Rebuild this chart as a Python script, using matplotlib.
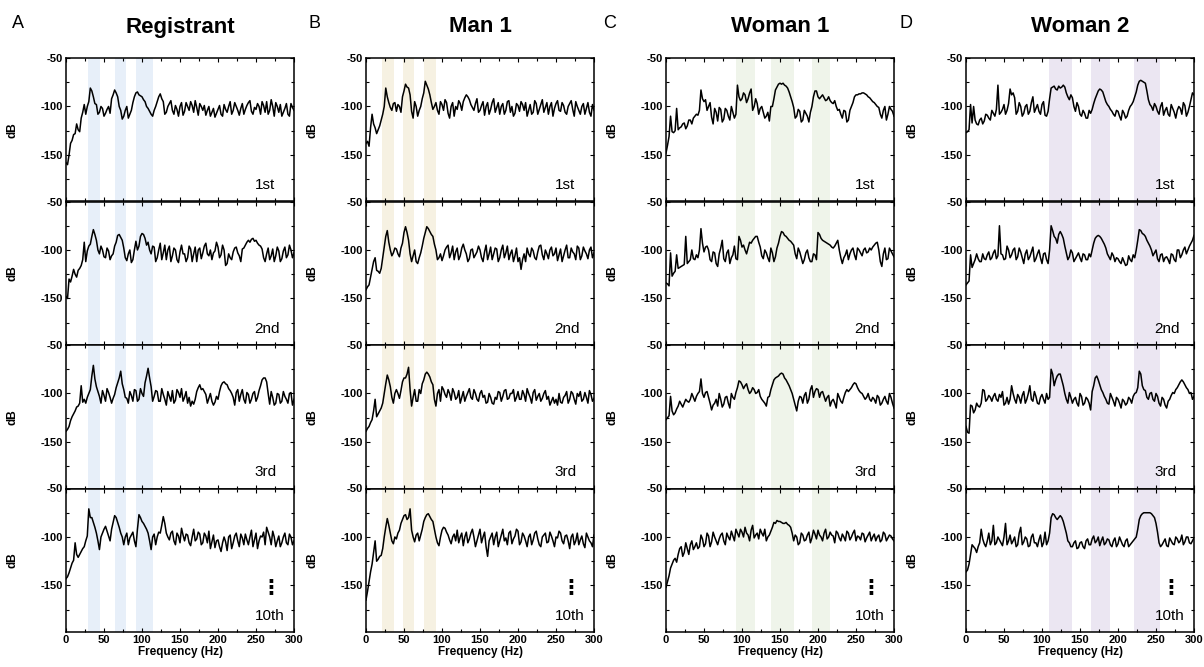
import numpy as np
import matplotlib.pyplot as plt
from matplotlib.ticker import MultipleLocator

plt.rcParams['font.family'] = ['Liberation Sans', 'DejaVu Sans']
plt.rcParams['font.weight'] = 'bold'
plt.rcParams['axes.unicode_minus'] = False

# spectra in dB: main lists sampled at 0, 4, ... 300 Hz, *_mid at 2, 6, ... 298 Hz
reg_1st = [-158, -150, -135, -128, -124, -112, -98, -100, -81, -90,
           -98, -106, -102, -107, -100, -92, -83, -90, -104, -110,
           -100, -108, -96, -86, -88, -90, -95, -102, -108, -104,
           -95, -87, -95, -106, -97, -104, -99, -110, -96, -105,
           -100, -95, -106, -101, -97, -104, -109, -100, -106, -111,
           -103, -108, -98, -106, -95, -104, -100, -109, -97, -103,
           -96, -105, -101, -97, -108, -99, -95, -104, -100, -96,
           -106, -110, -102, -108, -97, -104]
reg_1st_mid = [-160, -138, -129, -118, -126, -106, -108, -95, -84, -97,
               -108, -100, -110, -103, -107, -88, -86, -100, -113, -104,
               -112, -104, -90, -85, -89, -93, -100, -105, -110, -100,
               -90, -92, -108, -100, -94, -108, -103, -100, -109, -96,
               -104, -99, -94, -109, -100, -99, -104, -110, -102, -107,
               -99, -110, -103, -100, -108, -96, -104, -102, -108, -99,
               -94, -108, -103, -100, -95, -106, -108, -93, -110, -100,
               -98, -106, -97, -110, -101]
reg_2nd = [-148, -130, -127, -125, -121, -116, -92, -101, -94, -79,
           -90, -104, -100, -108, -101, -106, -96, -85, -87, -98,
           -111, -100, -110, -91, -96, -83, -88, -92, -104, -97,
           -108, -93, -103, -110, -96, -106, -100, -113, -95, -104,
           -108, -99, -104, -112, -98, -103, -93, -106, -110, -101,
           -97, -105, -100, -114, -108, -102, -97, -106, -99, -95,
           -90, -89, -91, -93, -96, -108, -104, -110, -99, -106,
           -101, -109, -97, -105, -100, -103]
reg_2nd_mid = [-150, -133, -120, -128, -119, -110, -112, -96, -86, -84,
               -100, -96, -107, -98, -110, -104, -92, -84, -90, -108,
               -104, -113, -100, -100, -86, -84, -95, -100, -96, -112,
               -100, -110, -95, -100, -112, -98, -110, -102, -104, -112,
               -96, -112, -97, -100, -109, -96, -104, -100, -103, -92,
               -108, -95, -116, -104, -110, -98, -103, -112, -98, -92,
               -92, -88, -90, -95, -99, -112, -98, -106, -112, -97,
               -112, -101, -108, -95, -108]
reg_3rd = [-139, -134, -124, -118, -113, -92, -106, -104, -96, -71,
           -93, -103, -97, -108, -99, -110, -101, -89, -77, -96,
           -105, -98, -108, -97, -106, -100, -89, -74, -93, -103,
           -98, -108, -101, -112, -103, -97, -107, -99, -95, -104,
           -110, -113, -111, -98, -91, -95, -101, -105, -108, -109,
           -106, -92, -88, -91, -97, -104, -99, -108, -96, -110,
           -101, -106, -98, -104, -92, -84, -88, -111, -104, -110,
           -101, -108, -103, -110, -99, -106]
reg_3rd_mid = [-137, -128, -121, -114, -110, -109, -110, -100, -82, -85,
               -98, -110, -102, -95, -104, -105, -94, -84, -90, -104,
               -110, -102, -96, -108, -95, -103, -82, -84, -108, -97,
               -108, -95, -106, -98, -108, -110, -96, -104, -108, -98,
               -104, -108, -106, -94, -96, -98, -110, -100, -112, -103,
               -98, -89, -90, -95, -100, -112, -96, -101, -106, -99,
               -110, -100, -108, -97, -86, -84, -100, -98, -112, -100,
               -110, -98, -106, -100, -112]
reg_10th = [-143, -137, -127, -106, -121, -115, -110, -99, -80, -85,
            -96, -113, -96, -89, -99, -92, -78, -85, -96, -108,
            -96, -101, -95, -110, -77, -84, -89, -96, -113, -97,
            -100, -96, -79, -96, -103, -94, -108, -99, -91, -104,
            -98, -109, -92, -102, -97, -106, -99, -94, -105, -111,
            -103, -115, -100, -114, -98, -106, -96, -110, -101, -97,
            -108, -93, -103, -112, -99, -95, -90, -100, -94, -110,
            -99, -106, -96, -108, -100, -104]
reg_10th_mid = [-141, -132, -124, -118, -118, -112, -104, -71, -80, -90,
                -104, -100, -92, -94, -104, -85, -80, -90, -100, -100,
                -108, -98, -104, -92, -80, -86, -92, -104, -100, -108,
                -95, -88, -86, -100, -96, -104, -96, -106, -98, -97,
                -106, -100, -104, -95, -108, -96, -106, -112, -98, -104,
                -110, -106, -105, -100, -112, -99, -104, -97, -108, -103,
                -100, -110, -96, -104, -100, -108, -95, -108, -100, -104,
                -110, -100, -106, -97, -108]

man_1st = [-138, -141, -108, -122, -124, -114, -100, -90, -101, -97,
           -105, -100, -90, -77, -81, -105, -95, -110, -100, -86,
           -78, -88, -103, -96, -108, -98, -93, -107, -100, -110,
           -103, -97, -95, -88, -93, -101, -97, -106, -99, -109,
           -96, -103, -92, -101, -108, -97, -104, -94, -100, -107,
           -99, -95, -104, -110, -98, -106, -97, -103, -93, -101,
           -108, -96, -102, -94, -105, -99, -108, -97, -103, -95,
           -104, -100, -108, -96, -110, -104]
man_1st_mid = [-136, -122, -118, -128, -120, -108, -81, -96, -104, -96,
               -98, -106, -84, -80, -88, -112, -100, -104, -92, -74,
               -82, -96, -100, -104, -95, -104, -96, -112, -96, -100,
               -94, -104, -91, -90, -98, -104, -92, -104, -95, -100,
               -108, -96, -106, -96, -100, -108, -95, -106, -110, -97,
               -105, -98, -96, -104, -108, -94, -108, -98, -106, -96,
               -100, -110, -97, -104, -96, -106, -100, -94, -110, -100,
               -108, -97, -102, -106, -98]
man_2nd = [-141, -136, -120, -108, -122, -119, -97, -80, -100, -103,
           -99, -107, -93, -76, -90, -112, -100, -114, -103, -88,
           -76, -81, -86, -100, -108, -111, -100, -95, -103, -110,
           -98, -106, -94, -104, -109, -99, -105, -96, -108, -102,
           -110, -97, -104, -99, -108, -95, -103, -110, -100, -106,
           -112, -120, -104, -98, -107, -101, -110, -96, -105, -100,
           -109, -97, -104, -111, -99, -106, -95, -108, -102, -110,
           -98, -106, -101, -109, -97, -103]
man_2nd_mid = [-138, -128, -112, -121, -124, -108, -86, -92, -106, -98,
               -104, -98, -82, -82, -104, -106, -112, -108, -96, -82,
               -78, -84, -94, -110, -104, -106, -97, -108, -96, -102,
               -110, -98, -100, -112, -100, -108, -102, -100, -112, -95,
               -104, -110, -98, -112, -100, -108, -96, -104, -112, -98,
               -108, -110, -112, -104, -98, -108, -102, -95, -110, -104,
               -100, -106, -98, -105, -112, -100, -108, -98, -104, -96,
               -110, -97, -104, -100, -108]
man_3rd = [-139, -134, -127, -106, -121, -115, -100, -81, -93, -110,
           -96, -105, -88, -84, -73, -113, -96, -108, -100, -86,
           -78, -83, -91, -113, -96, -93, -101, -96, -107, -99,
           -104, -110, -98, -103, -95, -106, -100, -108, -97, -102,
           -109, -104, -111, -106, -99, -103, -96, -105, -100, -108,
           -98, -106, -101, -95, -104, -99, -107, -100, -105, -97,
           -103, -108, -110, -112, -109, -104, -98, -106, -100, -111,
           -103, -108, -99, -110, -101, -105]
man_3rd_mid = [-136, -130, -118, -124, -118, -110, -90, -86, -104, -100,
               -100, -97, -84, -80, -96, -104, -108, -96, -90, -80,
               -80, -88, -106, -100, -108, -96, -104, -100, -95, -106,
               -97, -104, -108, -99, -104, -96, -106, -100, -104, -110,
               -100, -110, -104, -98, -108, -97, -106, -100, -96, -104,
               -106, -97, -108, -100, -110, -96, -103, -108, -100, -106,
               -112, -104, -106, -100, -110, -102, -110, -98, -106, -100,
               -98, -106, -104, -97, -108]
man_10th = [-165, -146, -128, -104, -123, -119, -100, -81, -96, -107,
            -102, -93, -82, -77, -80, -93, -105, -96, -98, -84,
            -77, -79, -84, -100, -109, -93, -91, -98, -107, -97,
            -93, -100, -109, -95, -102, -92, -110, -98, -106, -95,
            -120, -100, -108, -95, -104, -92, -101, -96, -107, -99,
            -94, -105, -99, -110, -97, -103, -94, -108, -100, -96,
            -105, -99, -110, -101, -96, -107, -98, -112, -97, -104,
            -108, -99, -111, -100, -106, -98]
man_10th_mid = [-156, -136, -116, -125, -120, -112, -90, -88, -104, -100,
                -96, -86, -78, -82, -71, -100, -98, -104, -92, -80,
                -76, -82, -92, -106, -100, -90, -95, -103, -100, -104,
                -106, -96, -100, -106, -96, -100, -104, -92, -100, -110,
                -104, -96, -100, -110, -98, -104, -108, -94, -102, -92,
                -108, -96, -104, -100, -108, -96, -102, -110, -98, -106,
                -95, -104, -100, -94, -104, -99, -104, -100, -108, -96,
                -103, -107, -96, -104, -110]

w1_1st = [-148, -131, -126, -125, -124, -121, -117, -120, -114, -112,
          -108, -104, -92, -93, -100, -111, -102, -115, -103, -113,
          -104, -114, -106, -108, -90, -92, -88, -92, -82, -100,
          -97, -102, -106, -110, -115, -100, -83, -77, -77, -78,
          -81, -90, -101, -110, -105, -114, -107, -116, -100, -84,
          -90, -90, -91, -93, -94, -97, -100, -103, -112, -105,
          -114, -100, -90, -88, -87, -86, -88, -91, -95, -98,
          -101, -112, -100, -108, -103, -110]
w1_1st_mid = [-140, -110, -127, -102, -122, -118, -123, -114, -118, -110,
              -109, -83, -95, -104, -96, -118, -106, -101, -116, -102,
              -110, -100, -112, -78, -94, -86, -96, -86, -104, -92,
              -108, -100, -112, -106, -100, -92, -80, -76, -76, -79,
              -85, -95, -112, -103, -116, -104, -110, -106, -90, -84,
              -92, -88, -94, -90, -96, -94, -104, -108, -104, -116,
              -104, -96, -88, -87, -86, -87, -90, -93, -96, -100,
              -108, -104, -114, -100, -105]
w1_2nd = [-134, -137, -127, -122, -119, -117, -115, -114, -110, -109,
          -105, -100, -93, -97, -100, -112, -103, -117, -98, -109,
          -103, -114, -105, -109, -86, -97, -100, -98, -93, -88,
          -86, -97, -109, -103, -112, -103, -107, -93, -81, -85,
          -88, -91, -95, -109, -102, -114, -103, -108, -112, -105,
          -82, -88, -91, -93, -95, -98, -93, -100, -114, -105,
          -110, -100, -105, -98, -103, -100, -103, -98, -97, -93,
          -100, -117, -98, -109, -101, -107]
w1_2nd_mid = [-135, -103, -124, -105, -118, -116, -86, -112, -100, -110,
              -108, -78, -102, -96, -110, -102, -114, -104, -90, -112,
              -100, -108, -96, -110, -90, -95, -104, -92, -90, -86,
              -92, -106, -100, -108, -98, -112, -98, -86, -82, -86,
              -90, -93, -104, -98, -108, -110, -100, -112, -104, -110,
              -84, -90, -92, -94, -97, -96, -90, -108, -108, -100,
              -104, -98, -110, -100, -106, -98, -102, -100, -95, -92,
              -112, -104, -110, -98, -104]
w1_3rd = [-127, -123, -118, -120, -113, -111, -110, -108, -106, -104,
          -103, -98, -100, -99, -104, -117, -110, -113, -106, -111,
          -103, -115, -104, -99, -87, -91, -92, -96, -98, -96,
          -99, -103, -108, -113, -103, -91, -84, -82, -79, -84,
          -89, -96, -106, -118, -103, -110, -99, -106, -92, -98,
          -96, -99, -103, -104, -113, -106, -115, -104, -110, -99,
          -98, -94, -89, -94, -99, -103, -104, -106, -104, -110,
          -104, -110, -103, -111, -104, -115]
w1_3rd_mid = [-125, -103, -122, -116, -108, -114, -106, -109, -100, -108,
              -100, -85, -104, -98, -110, -112, -106, -100, -114, -104,
              -110, -100, -106, -94, -88, -95, -90, -100, -94, -100,
              -96, -106, -110, -104, -96, -86, -83, -80, -80, -86,
              -92, -100, -112, -108, -104, -102, -110, -96, -104, -95,
              -104, -98, -108, -102, -108, -110, -100, -108, -104, -96,
              -96, -91, -90, -97, -100, -106, -100, -108, -106, -102,
              -112, -106, -108, -100, -110]
w1_10th = [-152, -140, -128, -122, -118, -110, -116, -112, -108, -113,
           -106, -110, -102, -107, -99, -105, -100, -108, -98, -104,
           -96, -103, -99, -92, -100, -95, -90, -98, -93, -101,
           -96, -92, -99, -104, -98, -90, -86, -84, -85, -86,
           -87, -90, -104, -100, -106, -98, -103, -95, -101, -97,
           -93, -100, -96, -102, -95, -99, -94, -101, -97, -104,
           -96, -100, -93, -99, -103, -97, -101, -95, -100, -104,
           -98, -103, -97, -101, -99, -104]
w1_10th_mid = [-146, -132, -124, -126, -112, -120, -106, -118, -104, -110,
               -112, -98, -110, -96, -110, -95, -104, -102, -96, -108,
               -100, -94, -104, -96, -92, -100, -96, -104, -88, -98,
               -102, -96, -92, -100, -94, -85, -83, -84, -86, -85,
               -88, -96, -98, -108, -96, -104, -98, -106, -93, -102,
               -98, -104, -92, -100, -98, -106, -96, -104, -100, -94,
               -103, -96, -104, -100, -96, -105, -98, -104, -97, -100,
               -105, -95, -104, -98, -102]

w2_1st = [-127, -124, -117, -114, -119, -112, -115, -109, -114, -107,
          -103, -108, -103, -108, -97, -88, -91, -105, -100, -107,
          -98, -105, -90, -102, -105, -98, -109, -105, -81, -79,
          -83, -81, -78, -86, -93, -91, -105, -100, -110, -107,
          -112, -107, -97, -88, -82, -85, -95, -100, -105, -110,
          -105, -114, -107, -110, -100, -95, -85, -74, -74, -76,
          -93, -100, -97, -105, -100, -109, -101, -110, -102, -112,
          -100, -108, -99, -106, -93, -88]
w2_1st_mid = [-126, -98, -100, -118, -114, -118, -108, -112, -104, -110,
              -78, -106, -98, -104, -82, -86, -108, -96, -110, -100,
              -108, -96, -106, -98, -108, -95, -110, -92, -80, -82,
              -79, -80, -80, -90, -88, -100, -96, -108, -104, -112,
              -104, -103, -92, -84, -83, -90, -98, -103, -108, -104,
              -110, -104, -112, -104, -98, -90, -78, -73, -75, -84,
              -98, -104, -100, -108, -96, -104, -108, -98, -106, -104,
              -102, -96, -110, -100, -86]
w2_2nd = [-136, -132, -118, -110, -109, -112, -109, -105, -110, -103,
          -109, -75, -105, -109, -100, -105, -98, -107, -102, -114,
          -100, -107, -97, -109, -100, -114, -103, -114, -75, -86,
          -93, -81, -88, -103, -107, -103, -109, -103, -112, -105,
          -110, -107, -93, -86, -86, -91, -98, -107, -103, -112,
          -109, -114, -112, -115, -110, -105, -100, -79, -83, -86,
          -93, -100, -103, -109, -105, -112, -107, -114, -105, -112,
          -100, -105, -97, -100, -93, -85]
w2_2nd_mid = [-134, -105, -114, -104, -112, -104, -110, -102, -108, -100,
              -106, -104, -110, -96, -108, -100, -110, -98, -108, -104,
              -110, -102, -112, -104, -108, -104, -110, -100, -80, -88,
              -84, -84, -96, -110, -100, -112, -106, -108, -104, -110,
              -104, -100, -88, -85, -88, -94, -104, -110, -106, -108,
              -112, -108, -116, -106, -112, -108, -90, -80, -84, -90,
              -96, -106, -100, -112, -104, -108, -110, -104, -110, -100,
              -108, -100, -104, -96, -90]
w2_3rd = [-134, -141, -113, -117, -113, -110, -97, -106, -104, -103,
          -106, -101, -98, -110, -111, -92, -106, -101, -110, -98,
          -106, -92, -108, -103, -111, -101, -110, -106, -75, -92,
          -82, -80, -92, -106, -99, -110, -104, -113, -103, -110,
          -106, -117, -92, -82, -91, -99, -106, -111, -104, -113,
          -106, -115, -108, -110, -106, -103, -99, -77, -92, -97,
          -106, -99, -108, -103, -113, -106, -115, -106, -99, -96,
          -91, -86, -91, -96, -99, -103]
w2_3rd_mid = [-140, -112, -120, -110, -114, -96, -108, -102, -108, -100,
              -108, -104, -112, -104, -106, -100, -110, -104, -102, -110,
              -100, -106, -98, -110, -104, -106, -100, -104, -80, -86,
              -80, -86, -100, -110, -104, -106, -110, -100, -112, -104,
              -110, -98, -84, -86, -96, -103, -110, -100, -108, -104,
              -110, -106, -112, -104, -110, -100, -94, -80, -96, -104,
              -100, -106, -100, -110, -104, -112, -108, -102, -100, -94,
              -88, -88, -94, -100, -106]
w2_10th = [-136, -128, -108, -112, -110, -92, -107, -104, -108, -88,
           -106, -103, -109, -86, -104, -107, -100, -108, -90, -105,
           -102, -109, -97, -106, -103, -110, -95, -104, -80, -77,
           -82, -78, -84, -96, -106, -110, -104, -111, -105, -112,
           -102, -108, -99, -104, -109, -100, -106, -103, -110, -101,
           -107, -104, -110, -102, -108, -104, -100, -82, -76, -75,
           -75, -76, -80, -95, -110, -105, -109, -101, -107, -100,
           -106, -98, -105, -100, -107, -101]
w2_10th_mid = [-134, -118, -110, -116, -106, -102, -110, -96, -104, -108,
               -100, -106, -100, -108, -98, -104, -110, -96, -108, -100,
               -110, -100, -106, -110, -98, -106, -108, -96, -76, -80,
               -80, -80, -90, -104, -110, -106, -112, -106, -110, -104,
               -108, -102, -106, -100, -104, -108, -102, -108, -104, -110,
               -100, -108, -104, -110, -106, -102, -92, -78, -75, -75,
               -75, -78, -86, -106, -108, -102, -110, -104, -108, -102,
               -104, -108, -100, -106, -104]

titles = ['Registrant', 'Man 1', 'Woman 1', 'Woman 2']
letters = ['A', 'B', 'C', 'D']
row_labels = ['1st', '2nd', '3rd', '10th']
spectra = [[(reg_1st, reg_1st_mid), (reg_2nd, reg_2nd_mid),
            (reg_3rd, reg_3rd_mid), (reg_10th, reg_10th_mid)],
           [(man_1st, man_1st_mid), (man_2nd, man_2nd_mid),
            (man_3rd, man_3rd_mid), (man_10th, man_10th_mid)],
           [(w1_1st, w1_1st_mid), (w1_2nd, w1_2nd_mid),
            (w1_3rd, w1_3rd_mid), (w1_10th, w1_10th_mid)],
           [(w2_1st, w2_1st_mid), (w2_2nd, w2_2nd_mid),
            (w2_3rd, w2_3rd_mid), (w2_10th, w2_10th_mid)]]
bands = [[(29.5, 44.5), (64.5, 79), (92.5, 114)],
         [(21.5, 37), (49, 63.5), (76, 92)],
         [(92.5, 117.5), (137.5, 169), (191.5, 215.5)],
         [(109, 139.5), (164.5, 190), (221.5, 255.5)]]
band_colors = ['#e7eff9', '#f6f1e2', '#eff4ea', '#ebe6f2']


def merge(main, mid):
    # put the 2 Hz offset samples between the main ones
    f = np.concatenate([np.linspace(0, 300, len(main)), np.linspace(2, 298, len(mid))])
    v = np.concatenate([main, mid])
    order = np.argsort(f)
    return f[order], v[order]


W, H = 1204, 667
fig = plt.figure(figsize=(W / 100, H / 100), dpi=100)

panel_h = 143.5
for c in range(4):
    left = 66 + 300 * c
    for r in range(4):
        top = 58 + panel_h * r
        ax = fig.add_axes([left / W, 1 - (top + panel_h) / H, 228 / W, panel_h / H])
        for lo, hi in bands[c]:
            ax.axvspan(lo, hi, color=band_colors[c], lw=0, zorder=0)
        freq, vals = merge(*spectra[c][r])
        ax.plot(freq, vals, color='black', lw=1.1, zorder=2)
        ax.set_xlim(0, 300)
        ax.set_ylim(-198, -50)
        ax.set_yticks([-150, -100, -50])
        ax.xaxis.set_major_locator(MultipleLocator(50))
        ax.xaxis.set_minor_locator(MultipleLocator(25))
        ax.yaxis.set_minor_locator(MultipleLocator(25))
        ax.tick_params(which='both', direction='in', top=True, right=True,
                       labelsize=8, width=0.8, pad=2)
        ax.tick_params(which='major', length=3)
        ax.tick_params(which='minor', length=2)
        for sp in ax.spines.values():
            sp.set_linewidth(1.1)
        ax.set_ylabel('dB', fontsize=8.5, fontweight='bold')
        ax.yaxis.set_label_coords(-48 / 228, 0.5)
        ax.text(248, -181, row_labels[r], fontsize=11, fontweight='normal',
                ha='left', va='center')
        if r == 3:
            ax.text(270, -152, '\u22ee', fontsize=15, fontweight='bold',
                    ha='center', va='center')
            ax.set_xlabel('Frequency (Hz)', fontsize=8.5, fontweight='bold', labelpad=1)
        else:
            ax.tick_params(labelbottom=False)
    fig.text((left + 114) / W, 1 - 27 / H, titles[c], fontsize=16,
             fontweight='bold', ha='center', va='center')
    fig.text((18 + 296 * c) / W, 1 - 24 / H, letters[c], fontsize=13,
             fontweight='normal', ha='center', va='center')

fig.savefig('out.png', dpi=100)
